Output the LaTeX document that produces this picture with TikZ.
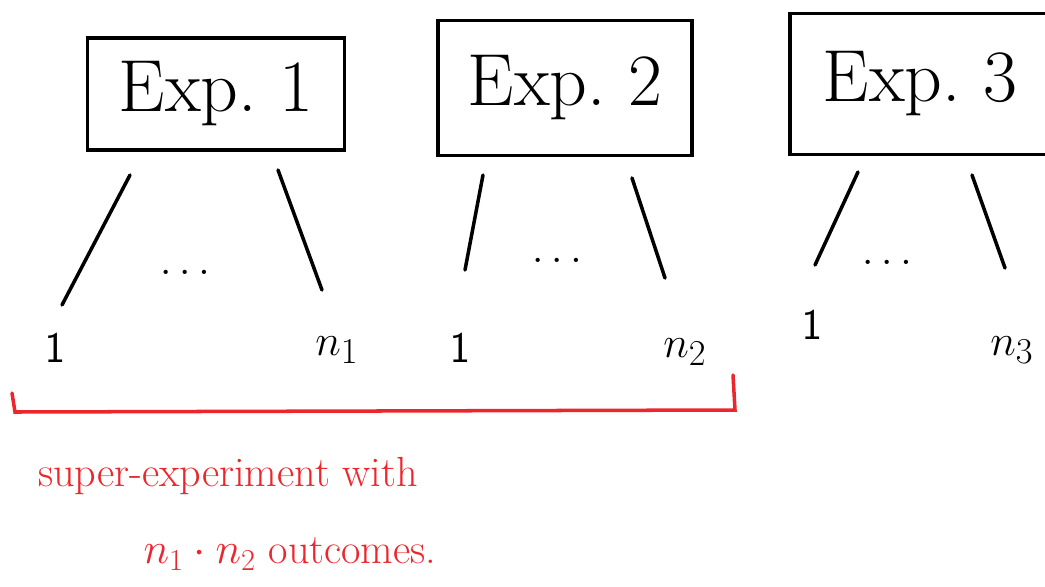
\documentclass[tikz,border=0pt]{standalone}
\usetikzlibrary{positioning}
\definecolor{penred}{RGB}{236,38,45}
\begin{document}
\begin{tikzpicture}[x=0.02cm, y=-0.02cm, line width=2pt, line cap=round,
  expbox/.style={draw, rectangle, font=\fontsize{42}{46}\selectfont},
  leaf/.style={font=\fontsize{30}{34}\selectfont},
  note/.style={text=penred, font=\fontsize{24}{28}\selectfont}]
\useasboundingbox (0,0) rectangle (1045,586);
% experiments
\node[expbox, minimum width=5.14cm, minimum height=2.24cm] (E1) at (216,94) {Exp.\ 1};
\node[expbox, minimum width=5.08cm, minimum height=2.7cm] (E2) at (565,88) {Exp.\ 2};
\node[expbox, minimum width=5.2cm, minimum height=2.82cm] (E3) at (920,84) {Exp.\ 3};
% outcomes
\node[leaf] (E1l) at (55,348) {$\mathsf{1}$};
\node[leaf] (E1r) at (337,350) {$n_1$};
\node[leaf] (E2l) at (460,348) {$\mathsf{1}$};
\node[leaf] (E2r) at (685,352) {$n_2$};
\node[leaf] (E3l) at (812,325) {$\mathsf{1}$};
\node[leaf] (E3r) at (1012,350) {$n_3$};
\node[leaf] (E1d) at (185,272) {$\dots$};
\node[leaf] (E2d) at (557,260) {$\dots$};
\node[leaf] (E3d) at (887,262) {$\dots$};
% branches
\coordinate (a1) at (130,175); \coordinate (b1) at (62,305);
\coordinate (c1) at (278,170); \coordinate (d1) at (322,290);
\coordinate (a2) at (483,175); \coordinate (b2) at (465,270);
\coordinate (c2) at (632,178); \coordinate (d2) at (665,278);
\coordinate (a3) at (858,172); \coordinate (b3) at (815,265);
\coordinate (c3) at (972,175); \coordinate (d3) at (1005,268);
\draw (a1) -- (b1); \draw (c1) -- (d1);
\draw (a2) -- (b2); \draw (c2) -- (d2);
\draw (a3) -- (b3); \draw (c3) -- (d3);
% super-experiment
\coordinate (s1) at (12,393); \coordinate (s2) at (15,412);
\coordinate (s3) at (735,410); \coordinate (s4) at (733,375);
\draw[penred] (s1) -- (s2) -- (s3) -- (s4);
\node[note] (N1) at (228,476) {super-experiment with};
\node[note] (N2) at (290,554) {$n_1\cdot n_2$ outcomes.};
\end{tikzpicture}
\end{document}
